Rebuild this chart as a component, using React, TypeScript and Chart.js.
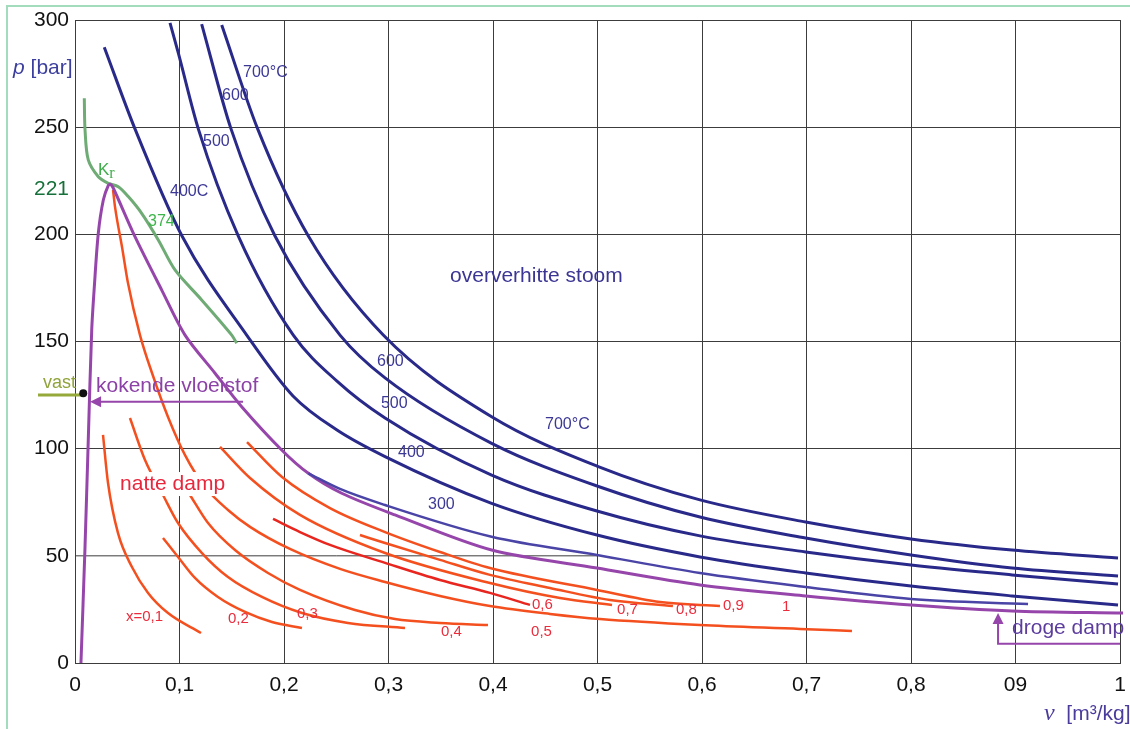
import React, { useEffect, useRef } from 'react';
import { Chart, registerables } from 'chart.js';

Chart.register(...registerables);

type Pt = { x: number; y: number };

// ---------- axis ticks ----------
const xTickLabels = ['0', '0,1', '0,2', '0,3', '0,4', '0,5', '0,6', '0,7', '0,8', '09', '1'];
const yTickValues = [0, 50, 100, 150, 200, 221, 250, 300];

// ---------- isotherms (v [m3/kg], p [bar]) ----------
const iso700: Pt[] = [
  { x: 0.1404, y: 297.7 }, { x: 0.1748, y: 249.2 }, { x: 0.2233, y: 199.2 }, { x: 0.295, y: 153.0 },
  { x: 0.3987, y: 114.9 }, { x: 0.4995, y: 91.9 }, { x: 0.5981, y: 76.1 }, { x: 0.6992, y: 65.8 },
  { x: 0.8, y: 57.9 }, { x: 0.8967, y: 52.7 }, { x: 0.9981, y: 49.0 },
];
const iso600: Pt[] = [
  { x: 0.1212, y: 298.1 }, { x: 0.1493, y: 249.2 }, { x: 0.1914, y: 199.2 }, { x: 0.2536, y: 153.0 },
  { x: 0.2967, y: 133.0 }, { x: 0.3987, y: 102.5 }, { x: 0.4995, y: 82.6 }, { x: 0.5981, y: 68.1 },
  { x: 0.6992, y: 58.3 }, { x: 0.8, y: 50.4 }, { x: 0.8967, y: 44.3 }, { x: 0.9981, y: 40.6 },
];
const iso500: Pt[] = [
  { x: 0.0909, y: 298.7 }, { x: 0.0989, y: 284.5 }, { x: 0.118, y: 249.2 }, { x: 0.1563, y: 199.2 },
  { x: 0.2089, y: 153.0 }, { x: 0.2507, y: 131.5 }, { x: 0.2967, y: 114.3 }, { x: 0.3987, y: 87.7 },
  { x: 0.4995, y: 70.9 }, { x: 0.5981, y: 59.3 }, { x: 0.6992, y: 51.8 }, { x: 0.8, y: 45.7 },
  { x: 0.8967, y: 41.1 }, { x: 0.9981, y: 36.9 },
];
const iso400: Pt[] = [
  { x: 0.028, y: 287.3 }, { x: 0.0574, y: 249.2 }, { x: 0.1024, y: 199.2 }, { x: 0.1643, y: 153.0 },
  { x: 0.2086, y: 124.6 }, { x: 0.2507, y: 108.7 }, { x: 0.2967, y: 96.3 }, { x: 0.3987, y: 74.5 },
  { x: 0.4995, y: 59.7 }, { x: 0.5981, y: 49.5 }, { x: 0.6992, y: 42.0 }, { x: 0.8, y: 35.9 },
  { x: 0.8967, y: 31.3 }, { x: 0.9981, y: 27.1 },
];
const iso300: Pt[] = [
  { x: 0.2233, y: 88.5 }, { x: 0.2536, y: 81.2 }, { x: 0.2967, y: 73.7 }, { x: 0.3987, y: 58.9 },
  { x: 0.4995, y: 50.4 }, { x: 0.5981, y: 42.0 }, { x: 0.6992, y: 35.5 }, { x: 0.8, y: 29.9 },
  { x: 0.912, y: 27.5 },
];

// ---------- saturation dome (boiling liquid + dry steam) ----------
const saturation: Pt[] = [
  { x: 0.0057, y: 0 }, { x: 0.0096, y: 54.3 }, { x: 0.0127, y: 104.0 }, { x: 0.016, y: 155.4 },
  { x: 0.0185, y: 175.6 }, { x: 0.0223, y: 200.5 }, { x: 0.0271, y: 216.0 }, { x: 0.0319, y: 222.8 },
  { x: 0.034, y: 223.3 }, { x: 0.0367, y: 221.5 }, { x: 0.0574, y: 198.9 }, { x: 0.083, y: 174.0 },
  { x: 0.1053, y: 153.0 }, { x: 0.134, y: 135.2 }, { x: 0.1595, y: 119.6 }, { x: 0.1978, y: 99.4 },
  { x: 0.2233, y: 88.5 }, { x: 0.2552, y: 79.2 }, { x: 0.3062, y: 69.1 }, { x: 0.3987, y: 52.7 },
  { x: 0.4995, y: 44.3 }, { x: 0.5981, y: 36.4 }, { x: 0.6992, y: 31.3 }, { x: 0.8, y: 27.1 },
  { x: 0.8967, y: 24.3 }, { x: 1.0029, y: 23.3 },
];

// ---------- critical isotherm 374 °C ----------
const iso374: Pt[] = [
  { x: 0.0089, y: 263.5 }, { x: 0.0096, y: 248.7 }, { x: 0.0127, y: 234.7 }, { x: 0.0223, y: 226.9 },
  { x: 0.0319, y: 223.8 }, { x: 0.0414, y: 222.2 }, { x: 0.051, y: 217.6 }, { x: 0.0638, y: 209.8 },
  { x: 0.0797, y: 197.4 }, { x: 0.0957, y: 183.4 }, { x: 0.1212, y: 169.4 }, { x: 0.15, y: 153.0 },
  { x: 0.1547, y: 149.2 },
];

// ---------- lines of constant quality x ----------
const x01: Pt[] = [
  { x: 0.0268, y: 106.4 }, { x: 0.0316, y: 84.0 }, { x: 0.0411, y: 60.7 }, { x: 0.0545, y: 44.8 },
  { x: 0.0699, y: 32.7 }, { x: 0.089, y: 23.3 }, { x: 0.1206, y: 14.0 },
];
const x02: Pt[] = [
  { x: 0.0842, y: 58.3 }, { x: 0.0986, y: 49.5 }, { x: 0.1148, y: 39.7 }, { x: 0.1368, y: 30.8 },
  { x: 0.1627, y: 23.8 }, { x: 0.1885, y: 19.1 }, { x: 0.2172, y: 16.3 },
];
const x03: Pt[] = [
  { x: 0.0526, y: 114.3 }, { x: 0.067, y: 94.7 }, { x: 0.0842, y: 78.4 }, { x: 0.0986, y: 65.3 },
  { x: 0.1215, y: 51.3 }, { x: 0.1464, y: 40.1 }, { x: 0.1789, y: 30.8 }, { x: 0.2172, y: 23.3 },
  { x: 0.2612, y: 18.7 }, { x: 0.3158, y: 16.3 },
];
const x04: Pt[] = [
  { x: 0.11, y: 78.4 }, { x: 0.1273, y: 65.3 }, { x: 0.1531, y: 52.7 }, { x: 0.1847, y: 42.0 },
  { x: 0.2153, y: 34.1 }, { x: 0.2679, y: 24.7 }, { x: 0.3062, y: 20.5 }, { x: 0.3493, y: 18.7 },
  { x: 0.3952, y: 17.7 },
];
const x05: Pt[] = [
  { x: 0.0364, y: 220.7 }, { x: 0.0383, y: 212.8 }, { x: 0.045, y: 194.1 }, { x: 0.0507, y: 177.3 },
  { x: 0.0622, y: 153.0 }, { x: 0.0737, y: 135.3 }, { x: 0.089, y: 114.8 }, { x: 0.1053, y: 97.0 },
  { x: 0.1244, y: 82.1 }, { x: 0.1464, y: 71.4 }, { x: 0.1675, y: 63.5 }, { x: 0.2057, y: 53.2 },
  { x: 0.2536, y: 43.9 }, { x: 0.2967, y: 37.8 }, { x: 0.3493, y: 31.3 }, { x: 0.3971, y: 26.6 },
  { x: 0.4545, y: 22.9 }, { x: 0.5024, y: 20.5 }, { x: 0.5981, y: 17.7 }, { x: 0.6938, y: 15.9 },
  { x: 0.7435, y: 14.9 },
];
const x06: Pt[] = [
  { x: 0.1895, y: 67.2 }, { x: 0.2153, y: 61.1 }, { x: 0.244, y: 55.1 }, { x: 0.2967, y: 46.7 },
  { x: 0.3493, y: 38.7 }, { x: 0.3971, y: 32.7 }, { x: 0.4354, y: 27.1 },
];
const x07: Pt[] = [
  { x: 0.1388, y: 100.8 }, { x: 0.1675, y: 86.3 }, { x: 0.2153, y: 69.1 }, { x: 0.2967, y: 51.3 },
  { x: 0.3971, y: 37.3 }, { x: 0.4641, y: 30.3 }, { x: 0.5139, y: 27.1 },
];
const x08: Pt[] = [
  { x: 0.2727, y: 59.7 }, { x: 0.2967, y: 56.0 }, { x: 0.3493, y: 48.1 }, { x: 0.3971, y: 41.1 },
  { x: 0.4545, y: 35.0 }, { x: 0.512, y: 29.4 }, { x: 0.5722, y: 26.6 },
];
const x09: Pt[] = [
  { x: 0.1646, y: 103.1 }, { x: 0.1981, y: 86.8 }, { x: 0.244, y: 72.3 }, { x: 0.2967, y: 61.1 },
  { x: 0.3493, y: 51.8 }, { x: 0.3971, y: 44.3 }, { x: 0.4995, y: 34.1 }, { x: 0.5598, y: 28.5 },
  { x: 0.6172, y: 26.6 },
];

// the 50 bar grid line only runs to v = 0.5 in the original
const grid50: Pt[] = [{ x: 0, y: 50 }, { x: 0.5, y: 50 }];

// ---------- labels (anchored in data units) ----------
const isoLabels = [
  { t: '700°C', v: 0.1608, p: 275.3 }, { t: '600', v: 0.1407, p: 264.5 }, { t: '500', v: 0.1225, p: 243.5 },
  { t: '400C', v: 0.0909, p: 219.8 }, { t: '600', v: 0.289, p: 140.4 }, { t: '500', v: 0.2928, p: 120.8 },
  { t: '400', v: 0.3091, p: 98.0 }, { t: '300', v: 0.3378, p: 73.7 }, { t: '700°C', v: 0.4498, p: 111.0 },
];
const qualityLabels = [
  { t: 'x=0,1', v: 0.0488, p: 21.5 }, { t: '0,2', v: 0.1464, p: 20.5 }, { t: '0,3', v: 0.2124, p: 22.9 },
  { t: '0,4', v: 0.3502, p: 14.5 }, { t: '0,5', v: 0.4364, p: 14.5 }, { t: '0,6', v: 0.4373, p: 27.1 },
  { t: '0,7', v: 0.5187, p: 24.7 }, { t: '0,8', v: 0.5751, p: 24.7 }, { t: '0,9', v: 0.6201, p: 26.6 },
  { t: '1', v: 0.6766, p: 26.1 },
];

const FONT = '"Liberation Sans", Arial, sans-serif';
const SERIF = '"Liberation Serif", "DejaVu Serif", serif';
const BLUE = '#29298a';
const BLUE_TXT = '#3c3896';
const PURPLE = '#9646aa';
const RED = '#f4501f';
const RED_TXT = '#ea2c3c';
const GREEN = '#6fab74';
const GRID = '#3c3c3c';

const annotations = {
  id: 'annotations',
  beforeDraw(chart: any) {
    const ctx = chart.ctx as CanvasRenderingContext2D;
    ctx.save();
    ctx.fillStyle = '#ffffff';
    ctx.fillRect(0, 0, chart.width, chart.height);
    ctx.strokeStyle = '#a3dbbd';
    ctx.lineWidth = 2;
    ctx.beginPath();
    ctx.moveTo(7, chart.height);
    ctx.lineTo(7, 6);
    ctx.lineTo(chart.width, 6);
    ctx.stroke();
    ctx.restore();
  },
  afterDatasetsDraw(chart: any) {
    const ctx = chart.ctx as CanvasRenderingContext2D;
    const xs = chart.scales.x;
    const ys = chart.scales.y;
    const X = (v: number) => xs.getPixelForValue(v);
    const Y = (p: number) => ys.getPixelForValue(p);
    ctx.save();
    ctx.textBaseline = 'middle';
    ctx.textAlign = 'left';

    const txt = (t: string, v: number, p: number, color: string, font: string, bg = false) => {
      ctx.font = font;
      const x = X(v);
      const y = Y(p);
      if (bg) {
        const w = ctx.measureText(t).width;
        ctx.fillStyle = '#ffffff';
        ctx.fillRect(x - 3, y - 12, w + 6, 24);
      }
      ctx.fillStyle = color;
      ctx.fillText(t, x, y);
    };

    isoLabels.forEach((l) => txt(l.t, l.v, l.p, BLUE_TXT, `16px ${FONT}`));
    qualityLabels.forEach((l) => txt(l.t, l.v, l.p, RED_TXT, `15px ${FONT}`));

    txt('oververhitte stoom', 0.3589, 180.6, '#3b3594', `21px ${FONT}`);
    txt('natte damp', 0.0431, 83.5, '#e8263c', `21px ${FONT}`, true);
    txt('374', 0.0699, 205.8, '#3db54a', `16px ${FONT}`);

    // K_r
    ctx.font = `17px ${FONT}`;
    ctx.fillStyle = '#3fae4a';
    const kx = X(0.022);
    const ky = Y(230);
    ctx.fillText('K', kx, ky);
    const kw = ctx.measureText('K').width;
    ctx.font = `16px ${SERIF}`;
    ctx.fillText('r', kx + kw, ky + 4);

    // boiling liquid label + arrow
    txt('kokende vloeistof', 0.0201, 129.2, '#8c42a6', `21px ${FONT}`);
    ctx.strokeStyle = PURPLE;
    ctx.fillStyle = PURPLE;
    ctx.lineWidth = 2;
    const ay = Y(121.9);
    const ax0 = X(0.1608);
    const ax1 = X(0.0144);
    ctx.beginPath();
    ctx.moveTo(ax0, ay);
    ctx.lineTo(ax1 + 8, ay);
    ctx.stroke();
    ctx.beginPath();
    ctx.moveTo(ax1, ay);
    ctx.lineTo(ax1 + 11, ay - 5.5);
    ctx.lineTo(ax1 + 11, ay + 5.5);
    ctx.closePath();
    ctx.fill();

    // solid
    txt('vast', -0.0306, 130.6, '#8fa33b', `18px ${FONT}`);
    ctx.strokeStyle = '#95a83a';
    ctx.lineWidth = 3;
    ctx.beginPath();
    ctx.moveTo(X(-0.0354), Y(125.0));
    ctx.lineTo(X(0.0079), Y(125.0));
    ctx.stroke();
    ctx.fillStyle = '#111';
    ctx.beginPath();
    ctx.arc(X(0.0079), Y(125.8), 4, 0, Math.PI * 2);
    ctx.fill();

    // dry steam label + arrow
    txt('droge damp', 0.8967, 16.3, '#5c3d9e', `21px ${FONT}`);
    ctx.strokeStyle = PURPLE;
    ctx.fillStyle = PURPLE;
    ctx.lineWidth = 2;
    const dx = X(0.8833);
    const dyb = Y(9.0);
    const dyt = Y(23.3);
    ctx.beginPath();
    ctx.moveTo(X(1.0), dyb);
    ctx.lineTo(dx, dyb);
    ctx.lineTo(dx, dyt + 8);
    ctx.stroke();
    ctx.beginPath();
    ctx.moveTo(dx, dyt);
    ctx.lineTo(dx - 5.5, dyt + 11);
    ctx.lineTo(dx + 5.5, dyt + 11);
    ctx.closePath();
    ctx.fill();

    // axis titles
    ctx.fillStyle = '#3c3f9e';
    ctx.font = `italic 21px ${FONT}`;
    const px0 = X(-0.0593);
    const py0 = Y(277.6);
    ctx.fillText('p', px0, py0);
    const pw = ctx.measureText('p').width;
    ctx.font = `21px ${FONT}`;
    ctx.fillText(' [bar]', px0 + pw, py0);

    ctx.fillStyle = '#4a3c9c';
    ctx.font = `italic 24px ${SERIF}`;
    const vx0 = X(0.9273);
    const vy0 = Y(-23.8);
    ctx.fillText('ν', vx0, vy0);
    const vw = ctx.measureText('ν').width;
    ctx.font = `21px ${FONT}`;
    ctx.fillText('  [m³/kg]', vx0 + vw, vy0);

    ctx.restore();
  },
};

function App() {
  const ref = useRef<HTMLCanvasElement>(null);

  useEffect(() => {
    const canvas = ref.current;
    if (!canvas) return;
    const curve = (label: string, data: Pt[], color: string, width: number, extra: any = {}) => ({
      label,
      data,
      borderColor: color,
      backgroundColor: color,
      borderWidth: width,
      pointRadius: 0,
      pointHoverRadius: 0,
      fill: false,
      cubicInterpolationMode: 'monotone',
      ...extra,
    });

    const chart = new Chart(canvas, {
      type: 'line',
      data: {
        datasets: [
          curve('700 °C', iso700, BLUE, 3),
          curve('600 °C', iso600, BLUE, 3),
          curve('500 °C', iso500, BLUE, 3),
          curve('400 °C', iso400, BLUE, 3),
          curve('300 °C', iso300, '#4a44a6', 2.5),
          curve('verzadiging', saturation, PURPLE, 3, { cubicInterpolationMode: 'default', tension: 0.3, clip: false }),
          curve('374 °C', iso374, GREEN, 3, { cubicInterpolationMode: 'default', tension: 0.3 }),
          curve('x=0,1', x01, RED, 2.5),
          curve('x=0,2', x02, RED, 2.5),
          curve('x=0,3', x03, RED, 2.5),
          curve('x=0,4', x04, RED, 2.5),
          curve('x=0,5', x05, RED, 2.5),
          curve('x=0,6', x06, '#e8261f', 2.5),
          curve('x=0,7', x07, RED, 2.5),
          curve('x=0,8', x08, RED, 2.5),
          curve('x=0,9', x09, RED, 2.5),
          curve('grid50', grid50, GRID, 1, { cubicInterpolationMode: 'default', tension: 0 }),
        ],
      },
      options: {
        responsive: false,
        maintainAspectRatio: false,
        animation: false,
        devicePixelRatio: 1,
        events: [],
        layout: { padding: { left: 0, top: 20, right: 10, bottom: 0 } },
        plugins: {
          legend: { display: false },
          tooltip: { enabled: false },
        },
        scales: {
          x: {
            type: 'linear',
            min: 0,
            max: 1,
            afterFit: (s: any) => {
              s.height = 66;
              s.paddingLeft = 0;
              s.paddingRight = 0;
            },
            ticks: {
              stepSize: 0.1,
              autoSkip: false,
              maxRotation: 0,
              padding: 10,
              color: '#111',
              font: { size: 21, family: FONT },
              callback: (_v: any, i: number) => xTickLabels[i] ?? '',
            },
            grid: { color: GRID, lineWidth: 1, drawTicks: false },
            border: { color: GRID, width: 1 },
          },
          y: {
            type: 'linear',
            min: 0,
            max: 300,
            afterFit: (s: any) => {
              s.width = 75;
              s.paddingTop = 0;
              s.paddingBottom = 0;
            },
            afterBuildTicks: (s: any) => {
              s.ticks = yTickValues.map((value) => ({ value }));
            },
            ticks: {
              padding: 6,
              color: (c: any) => (c.tick && c.tick.value === 221 ? '#17703a' : '#111'),
              font: { size: 21, family: FONT },
              callback: (v: any) => String(v),
            },
            grid: {
              color: (c: any) =>
                c.tick && (c.tick.value === 221 || c.tick.value === 50) ? 'rgba(0,0,0,0)' : GRID,
              lineWidth: 1,
              drawTicks: false,
            },
            border: { color: GRID, width: 1 },
          },
        },
      },
      plugins: [annotations],
    } as any);

    return () => chart.destroy();
  }, []);

  return (
    <div style={{ position: 'fixed', left: 0, top: 0, width: 1130, height: 729, background: '#fff' }}>
      <canvas ref={ref} width={1130} height={729} style={{ width: 1130, height: 729, display: 'block' }} />
    </div>
  );
}

export default App;
